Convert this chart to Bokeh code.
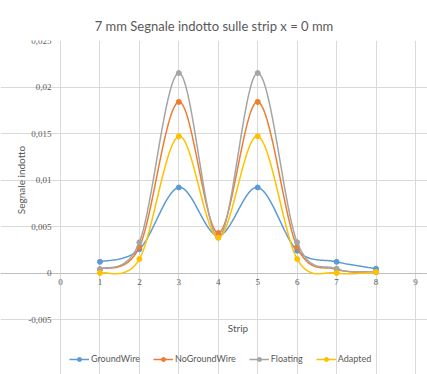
import numpy as np
from bokeh.plotting import figure
from bokeh.models import (ColumnDataSource, FixedTicker, Range1d, Legend, LegendItem,
                          Title, LabelSet, Label, Grid)
from bokeh.embed import file_html
from bokeh.resources import INLINE

strips = [1, 2, 3, 4, 5, 6, 7, 8]
ground_wire = [0.0012, 0.00255, 0.0092, 0.0040, 0.0092, 0.0024, 0.0012, 0.00046]
no_ground_wire = [0.0004, 0.0028, 0.0184, 0.0043, 0.0184, 0.0028, 0.0004, 0.0001]
floating = [0.0004, 0.0033, 0.0215, 0.0038, 0.0215, 0.0033, 0.00046, 0.0001]
adapted = [0.0000, 0.0015, 0.0147, 0.0038, 0.0147, 0.0015, 0.0000, 0.0001]

series_names = ["GroundWire", "NoGroundWire", "Floating", "Adapted"]
series_colors = ["#5B9BD5", "#ED7D31", "#A5A5A5", "#FFC000"]

x_ticks = [0, 1, 2, 3, 4, 5, 6, 7, 8, 9]
x_tick_labels = ["0", "1", "2", "3", "4", "5", "6", "7", "8", "9"]
y_ticks = [-0.005, 0, 0.005, 0.01, 0.015, 0.02, 0.025]
y_tick_labels = ["-0,005", "0", "0,005", "0,01", "0,015", "0,02", "0,025"]

FONT = "Lato"
TXT = "#595959"
GRID = "#D9D9D9"

# layout in pixels
W, H = 427, 374
TOP = 40            # plot area top
AREA_LEFT = 60      # plot area left
AREA_W = 355        # plot area width
AREA_H = 279        # plot area height
FRAME_H = H - TOP

px_x = AREA_W / (x_ticks[-1] - x_ticks[0])
px_y = AREA_H / (y_ticks[-1] - y_ticks[0])
x_start = x_ticks[0] - AREA_LEFT / px_x
x_end = x_ticks[-1] + (W - AREA_LEFT - AREA_W) / px_x
y_end = y_ticks[-1]
y_start = y_ticks[0] - (FRAME_H - AREA_H) / px_y


def smooth(xs, ys, n=30):
    xs = np.asarray(xs, float)
    ys = np.asarray(ys, float)
    px, py = [], []
    m = len(xs)
    for i in range(m - 1):
        x0, y0 = xs[i], ys[i]
        x3, y3 = xs[i + 1], ys[i + 1]
        xm, ym = (xs[i - 1], ys[i - 1]) if i > 0 else (x0, y0)
        xp, yp = (xs[i + 2], ys[i + 2]) if i + 2 < m else (x3, y3)
        x1, y1 = x0 + (x3 - xm) / 6, y0 + (y3 - ym) / 6
        x2, y2 = x3 - (xp - x0) / 6, y3 - (yp - y0) / 6
        t = np.linspace(0, 1, n, endpoint=(i == m - 2))
        a = (1 - t) ** 3
        b = 3 * (1 - t) ** 2 * t
        c = 3 * (1 - t) * t ** 2
        d = t ** 3
        px.extend(a * x0 + b * x1 + c * x2 + d * x3)
        py.extend(a * y0 + b * y1 + c * y2 + d * y3)
    return px, py


p = figure(frame_width=W, frame_height=FRAME_H, output_backend="svg", toolbar_location=None,
           x_range=Range1d(x_start, x_end), y_range=Range1d(y_start, y_end),
           min_border_left=0, min_border_right=0, min_border_top=TOP, min_border_bottom=0)
p.outline_line_color = None
p.background_fill_color = "white"
p.border_fill_color = "white"

p.title = Title(text="7 mm Segnale indotto sulle strip x = 0 mm", align="center",
                text_font=FONT, text_font_size="13px", text_color=TXT,
                text_font_style="normal", offset=0, standoff=14)

p.xaxis.visible = False
p.yaxis.visible = False

p.xgrid.ticker = FixedTicker(ticks=x_ticks)
p.ygrid.ticker = FixedTicker(ticks=y_ticks)
p.xgrid.grid_line_color = GRID
p.ygrid.grid_line_color = GRID
p.xgrid.bounds = (y_ticks[0], y_ticks[-1])
p.ygrid.bounds = (x_ticks[0], x_ticks[-1])
p.add_layout(Grid(dimension=1, ticker=FixedTicker(ticks=[0]), grid_line_color="#BFBFBF",
                  bounds=(x_ticks[0], x_ticks[-1])))

# horizontal axis labels at y = 0
xl_src = ColumnDataSource(dict(x=x_ticks, y=[0] * len(x_ticks), t=x_tick_labels))
p.add_layout(LabelSet(x="x", y="y", text="t", source=xl_src, text_font=FONT,
                      text_font_size="9px", text_color=TXT, text_align="center",
                      text_baseline="top", y_offset=-6))

# vertical axis labels
yl_src = ColumnDataSource(dict(x=[x_ticks[0]] * len(y_ticks), y=y_ticks, t=y_tick_labels))
p.add_layout(LabelSet(x="x", y="y", text="t", source=yl_src, text_font=FONT,
                      text_font_size="9px", text_color=TXT, text_align="right",
                      text_baseline="middle", x_offset=-9))

p.add_layout(Label(x=x_ticks[0], y=(y_ticks[0] + y_ticks[-1]) / 2, text="Segnale indotto",
                   x_offset=-40, angle=90, angle_units="deg", text_font=FONT,
                   text_font_size="10px", text_color=TXT, text_align="center",
                   text_baseline="middle"))

p.add_layout(Label(x=(x_ticks[0] + x_ticks[-1]) / 2, y=y_ticks[0], text="Strip",
                   y_offset=-8, text_font=FONT, text_font_size="10px", text_color=TXT,
                   text_align="center", text_baseline="middle"))

items = []
for name, ys, col in zip(series_names, [ground_wire, no_ground_wire, floating, adapted], series_colors):
    sx, sy = smooth(strips, ys)
    r1 = p.line(sx, sy, line_color=col, line_width=1.5)
    r2 = p.scatter(strips, ys, marker="circle", size=5, fill_color=col, line_color=col)
    items.append(LegendItem(label=name, renderers=[r1, r2]))

legend = Legend(items=items, orientation="horizontal", location=(69, 10),
                label_text_font=FONT, label_text_font_size="9px", label_text_color=TXT,
                background_fill_alpha=0, border_line_color=None, glyph_width=20,
                glyph_height=10, spacing=13, padding=0, margin=0, label_standoff=2)
p.add_layout(legend, "center")

open("out.html", "w").write(file_html(p, INLINE))
